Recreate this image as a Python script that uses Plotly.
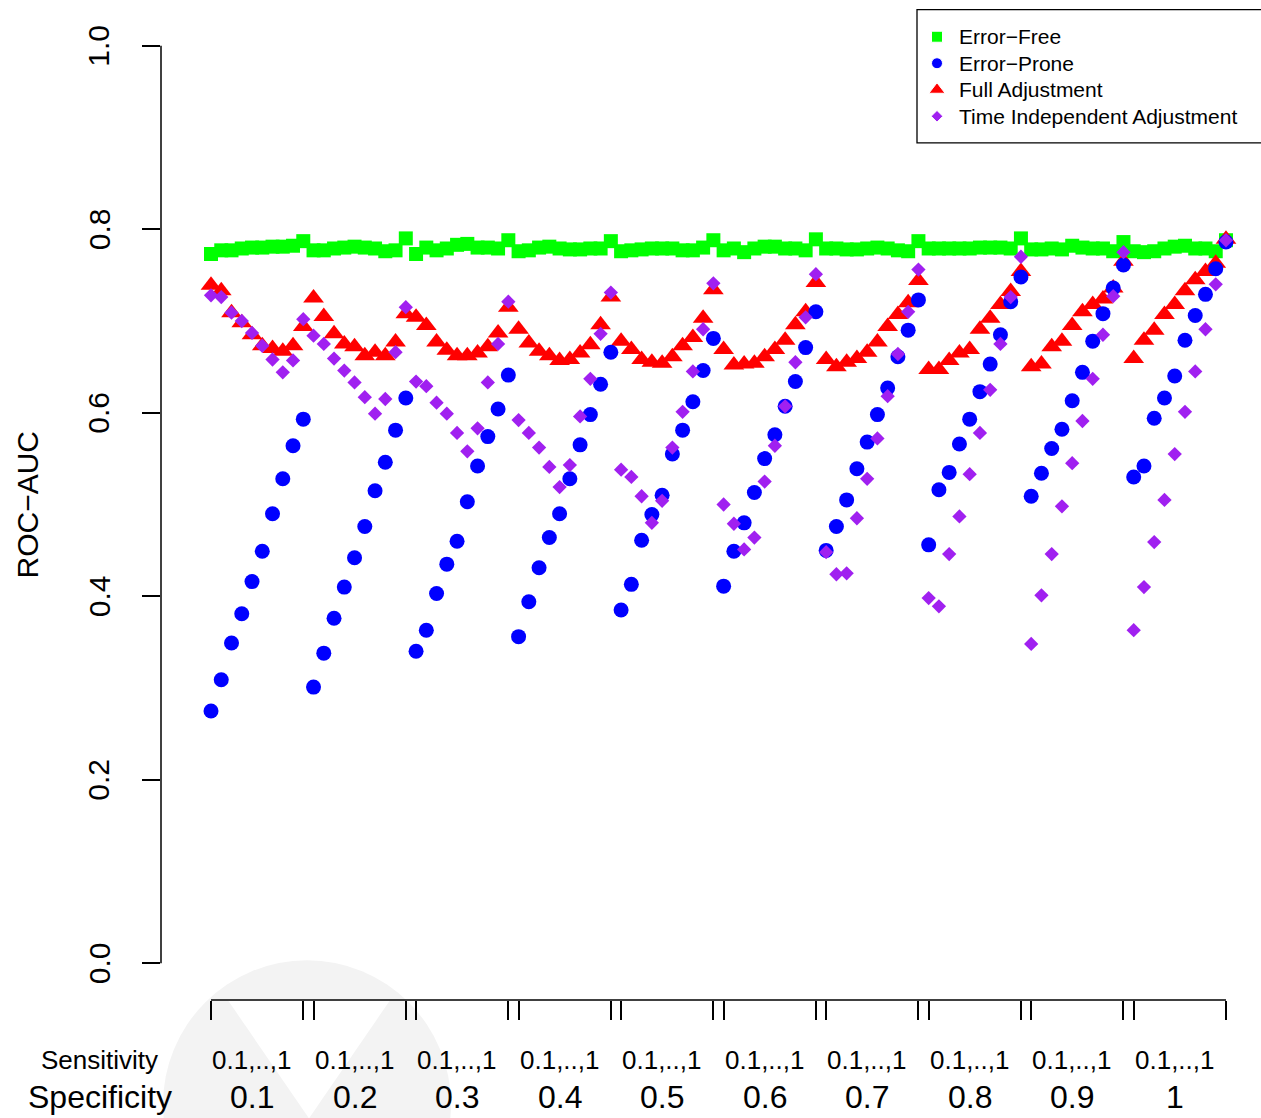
import plotly.graph_objects as go

specificity = ["0.1", "0.2", "0.3", "0.4", "0.5", "0.6", "0.7", "0.8", "0.9", "1"]
sens_label = "0.1,..,1"
series_names = ["Error\u2212Free", "Error\u2212Prone", "Full Adjustment",
                "Time Independent Adjustment"]

error_free = [
    0.773, 0.777, 0.777, 0.779, 0.780, 0.780, 0.781, 0.781, 0.782, 0.787,
    0.777, 0.777, 0.779, 0.780, 0.781, 0.780, 0.779, 0.776, 0.777, 0.790,
    0.773, 0.780, 0.777, 0.779, 0.783, 0.784, 0.780, 0.780, 0.779, 0.788,
    0.776, 0.777, 0.780, 0.781, 0.779, 0.778, 0.778, 0.779, 0.779, 0.787,
    0.776, 0.777, 0.778, 0.779, 0.779, 0.779, 0.777, 0.777, 0.780, 0.788,
    0.777, 0.779, 0.775, 0.779, 0.781, 0.781, 0.779, 0.779, 0.777, 0.789,
    0.779, 0.779, 0.778, 0.778, 0.779, 0.780, 0.779, 0.777, 0.776, 0.787,
    0.779, 0.779, 0.779, 0.779, 0.779, 0.780, 0.780, 0.780, 0.779, 0.790,
    0.778, 0.778, 0.779, 0.778, 0.782, 0.780, 0.779, 0.779, 0.776, 0.786,
    0.776, 0.775, 0.776, 0.779, 0.781, 0.782, 0.779, 0.779, 0.776, 0.788,
]

error_prone = [
    0.275, 0.309, 0.349, 0.381, 0.416, 0.449, 0.490, 0.528, 0.564, 0.593,
    0.301, 0.338, 0.376, 0.410, 0.442, 0.476, 0.515, 0.546, 0.581, 0.616,
    0.340, 0.363, 0.403, 0.435, 0.460, 0.503, 0.542, 0.574, 0.604, 0.641,
    0.356, 0.394, 0.431, 0.464, 0.490, 0.528, 0.565, 0.598, 0.631, 0.666,
    0.385, 0.413, 0.461, 0.489, 0.510, 0.555, 0.581, 0.612, 0.646, 0.681,
    0.411, 0.449, 0.480, 0.513, 0.550, 0.576, 0.607, 0.634, 0.671, 0.710,
    0.450, 0.476, 0.505, 0.539, 0.568, 0.598, 0.627, 0.661, 0.690, 0.723,
    0.456, 0.516, 0.535, 0.566, 0.593, 0.623, 0.653, 0.685, 0.721, 0.748,
    0.509, 0.534, 0.561, 0.582, 0.613, 0.644, 0.678, 0.708, 0.736, 0.761,
    0.530, 0.542, 0.594, 0.616, 0.640, 0.679, 0.706, 0.729, 0.757, 0.786,
]

full_adjustment = [
    0.739, 0.733, 0.709, 0.698, 0.685, 0.673, 0.670, 0.667, 0.673, 0.694,
    0.725, 0.705, 0.686, 0.675, 0.672, 0.662, 0.666, 0.662, 0.677, 0.708,
    0.704, 0.695, 0.677, 0.668, 0.662, 0.662, 0.665, 0.672, 0.687, 0.715,
    0.691, 0.676, 0.667, 0.662, 0.657, 0.658, 0.665, 0.674, 0.696, 0.726,
    0.678, 0.669, 0.658, 0.655, 0.654, 0.661, 0.673, 0.682, 0.703, 0.734,
    0.669, 0.652, 0.653, 0.654, 0.661, 0.669, 0.679, 0.696, 0.710, 0.742,
    0.658, 0.650, 0.655, 0.659, 0.666, 0.677, 0.694, 0.707, 0.720, 0.744,
    0.647, 0.647, 0.657, 0.665, 0.669, 0.691, 0.703, 0.718, 0.732, 0.754,
    0.650, 0.653, 0.672, 0.678, 0.695, 0.710, 0.718, 0.724, 0.736, 0.765,
    0.659, 0.679, 0.690, 0.707, 0.718, 0.733, 0.745, 0.754, 0.763, 0.789,
]

time_independent = [
    0.728, 0.726, 0.709, 0.700, 0.687, 0.673, 0.658, 0.644, 0.657, 0.702,
    0.684, 0.675, 0.659, 0.646, 0.633, 0.617, 0.599, 0.615, 0.666, 0.715,
    0.634, 0.629, 0.611, 0.599, 0.578, 0.558, 0.583, 0.633, 0.675, 0.721,
    0.592, 0.578, 0.562, 0.541, 0.519, 0.543, 0.596, 0.637, 0.686, 0.731,
    0.538, 0.530, 0.509, 0.480, 0.504, 0.562, 0.601, 0.645, 0.691, 0.741,
    0.500, 0.479, 0.451, 0.464, 0.525, 0.564, 0.607, 0.655, 0.704, 0.751,
    0.448, 0.424, 0.425, 0.485, 0.528, 0.572, 0.618, 0.664, 0.710, 0.756,
    0.398, 0.389, 0.446, 0.487, 0.533, 0.578, 0.625, 0.675, 0.726, 0.770,
    0.348, 0.401, 0.446, 0.498, 0.545, 0.591, 0.637, 0.685, 0.727, 0.775,
    0.363, 0.410, 0.459, 0.505, 0.555, 0.601, 0.645, 0.691, 0.740, 0.788,
]

n_groups = len(specificity)
group_size = 10
idx = list(range(1, n_groups * group_size + 1))

FONT = "Liberation Sans, Arial, Helvetica, sans-serif"
GREEN, BLUE, RED, PURPLE = "#00FF00", "#0000FF", "#FF0000", "#A020F0"

# plot-area geometry (pixels)
PL, PR, PT, PB = 161, 1251, 9.3, 999.7


def px_x(p):
    return (p - PL) / (PR - PL)


def px_y(p):
    return (PB - p) / (PB - PT)


fig = go.Figure()

fig.add_trace(go.Scatter(x=idx, y=error_free, mode="markers", name=series_names[0],
                         marker=dict(symbol="square", size=14, color=GREEN, opacity=1)))
fig.add_trace(go.Scatter(x=idx, y=full_adjustment, mode="markers", name=series_names[2],
                         marker=dict(symbol="triangle-up", size=18, color=RED, opacity=1)))
fig.add_trace(go.Scatter(x=idx, y=error_prone, mode="markers", name=series_names[1],
                         marker=dict(symbol="circle", size=15, color=BLUE, opacity=1)))
fig.add_trace(go.Scatter(x=idx, y=time_independent, mode="markers", name=series_names[3],
                         marker=dict(symbol="diamond", size=11, color=PURPLE, opacity=1)))

# hand-drawn legend (R style box at top right)
leg_sym_x = 937
leg_rows = [37, 63.5, 90, 116.5]
leg_symbols = ["square", "circle", "triangle-up", "diamond"]
leg_colors = [GREEN, BLUE, RED, PURPLE]
leg_sizes = [11, 11, 14, 9]
fig.add_trace(go.Scatter(x=[leg_sym_x] * 4, y=leg_rows, mode="markers", xaxis="x2", yaxis="y2",
                         showlegend=False, hoverinfo="skip",
                         marker=dict(symbol=leg_symbols, color=leg_colors, size=leg_sizes,
                                     opacity=1)))

tickvals_x = []
for g in range(n_groups):
    tickvals_x += [g * group_size + 1, g * group_size + group_size]

annotations = []
for g in range(n_groups):
    cx = g * group_size + group_size / 2
    annotations.append(dict(x=cx, xref="x", y=px_y(1060), yref="paper", text=sens_label,
                            showarrow=False, font=dict(size=26, color="black", family=FONT),
                            xanchor="center", yanchor="middle"))
    annotations.append(dict(x=cx, xref="x", y=px_y(1097), yref="paper", text=specificity[g],
                            showarrow=False, font=dict(size=32, color="black", family=FONT),
                            xanchor="center", yanchor="middle"))
annotations.append(dict(x=px_x(99), xref="paper", y=px_y(1060), yref="paper", text="Sensitivity",
                        showarrow=False, font=dict(size=26, color="black", family=FONT),
                        xanchor="center", yanchor="middle"))
annotations.append(dict(x=px_x(99.5), xref="paper", y=px_y(1097), yref="paper", text="Specificity",
                        showarrow=False, font=dict(size=32, color="black", family=FONT),
                        xanchor="center", yanchor="middle"))

y_ticks = [0.0, 0.2, 0.4, 0.6, 0.8, 1.0]
for v in y_ticks:
    annotations.append(dict(x=0, xref="paper", xshift=-62, y=v, yref="y", text=f"{v:.1f}",
                            showarrow=False, textangle=-90,
                            font=dict(size=30, color="black", family=FONT),
                            xanchor="center", yanchor="middle"))
annotations.append(dict(x=0, xref="paper", xshift=-134, y=0.5, yref="y", text="ROC\u2212AUC",
                        showarrow=False, textangle=-90,
                        font=dict(size=30, color="black", family=FONT),
                        xanchor="center", yanchor="middle"))

for name, row in zip(series_names, leg_rows):
    annotations.append(dict(x=px_x(957), xref="paper", y=px_y(row), yref="paper", text=name,
                            showarrow=False, font=dict(size=21, color="black", family=FONT),
                            xanchor="left", yanchor="middle"))

shapes = [
    # faint background watermark
    dict(type="circle", xref="paper", yref="paper", layer="below",
         x0=px_x(163), x1=px_x(451), y0=px_y(1248), y1=px_y(960),
         fillcolor="#f3f3f3", line=dict(width=0)),
    dict(type="path", xref="paper", yref="paper", layer="below",
         path="M {a},{b} L {c},{b} L {d},{e} Z".format(
             a=px_x(228), c=px_x(390), b=px_y(1000), d=px_x(309), e=px_y(1118)),
         fillcolor="white", line=dict(width=0)),
    # legend box
    dict(type="rect", xref="paper", yref="paper", layer="below",
         x0=px_x(917), x1=px_x(1275), y0=px_y(143), y1=px_y(10),
         fillcolor="white", line=dict(color="black", width=1.3)),
    # y axis line from 0 to 1
    dict(type="line", xref="paper", yref="y", x0=0, x1=0, y0=0, y1=1,
         line=dict(color="black", width=1.5)),
    # x axis line from first to last point
    dict(type="line", xref="x", yref="paper", x0=idx[0], x1=idx[-1], y0=0, y1=0,
         line=dict(color="black", width=1.5)),
]

fig.update_layout(
    width=1261, height=1118,
    margin=dict(l=PL, r=1261 - PR, t=PT, b=1118 - PB),
    paper_bgcolor="white", plot_bgcolor="rgba(0,0,0,0)",
    font=dict(family=FONT, color="black"),
    showlegend=False,
    xaxis=dict(range=[-3.878, 102.44], showgrid=False, zeroline=False, showline=False,
               tickmode="array", tickvals=tickvals_x, ticks="outside", ticklen=19,
               tickwidth=1.5, tickcolor="black", showticklabels=False),
    yaxis=dict(range=[-0.04, 1.04], showgrid=False, zeroline=False, showline=False,
               tickmode="array", tickvals=y_ticks, ticks="outside", ticklen=18,
               tickwidth=1.5, tickcolor="black", showticklabels=False),
    xaxis2=dict(overlaying="x", range=[PL, PR], visible=False, fixedrange=True),
    yaxis2=dict(overlaying="y", range=[PB, PT], visible=False, fixedrange=True),
    annotations=annotations,
    shapes=shapes,
)

fig.write_html("out.html", config={"displayModeBar": False},
               post_script="document.body.style.margin='0';document.body.style.padding='0';")
